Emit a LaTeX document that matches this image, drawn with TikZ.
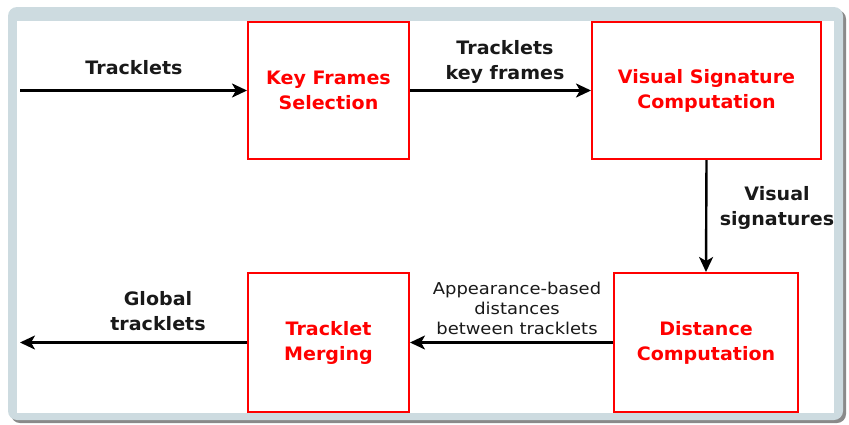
\documentclass[tikz,border=0pt]{standalone}
\usepackage{fontspec}
\setmainfont{DejaVu Sans}
\newfontfamily\bigfont[FakeStretch=1.03]{DejaVu Sans}
\newfontfamily\smallfont[FakeStretch=1.1]{DejaVu Sans}
\usetikzlibrary{arrows.meta}
\definecolor{framecol}{HTML}{CDDBE0}
\definecolor{shadowcol}{HTML}{8A8A8A}
\tikzset{
  proc/.style={draw=red, line width=2pt, fill=white, font=\bigfont\bfseries\fontsize{18.5}{25}\selectfont, text=red, align=center, inner sep=0pt},
  conn/.style={line width=2.4pt, -{Stealth[length=15pt,width=14pt,inset=4pt]}},
  lbl/.style={font=\bigfont\bfseries\fontsize{18.5}{25}\selectfont, text=black!90, align=center},
  slbl/.style={font=\smallfont\fontsize{16.3}{20}\selectfont, text=black!90, align=center},
}
\begin{document}
\begin{tikzpicture}[x=1pt,y=-1pt]
\useasboundingbox (0,0) rectangle (849,424);
% frame with shadow
\fill[shadowcol, rounded corners=9pt] (11,10) rectangle (846,423);
\fill[framecol, rounded corners=9pt] (8,7) rectangle (843,420);
\fill[white] (17,21) rectangle (834,413);
% boxes
\node[proc, minimum width=161pt, minimum height=137pt] (kf) at (328.5,90.5) {Key Frames\\Selection};
\node[proc, minimum width=229pt, minimum height=137pt] (vs) at (706.5,90.5) {Visual Signature\\Computation};
\node[proc, minimum width=184pt, minimum height=139pt] (dc) at (706,342.5) {Distance\\Computation};
\node[proc, minimum width=161pt, minimum height=139pt] (tm) at (328.5,342.5) {Tracklet\\Merging};
\coordinate (in) at (20,90.5);
\coordinate (out) at (20,342.5);
% connectors
\draw[conn] (in) -- (kf.west);
\draw[conn] (kf.east) -- (vs.west);
\draw[conn] (vs.south) -- (dc.north);
\draw[conn] (dc.west) -- (tm.east);
\draw[conn] (tm.west) -- (out);
% labels
\node[lbl] (l1) at (134,68) {Tracklets};
\node[lbl] (l2) at (505,62) {Tracklets\\key frames};
\node[lbl] (l3) at (777,208) {Visual\\signatures};
\node[slbl] (l4) at (517,308) {Appearance-based\\distances\\between tracklets};
\node[lbl] (l5) at (158,311) {Global\\tracklets};
\end{tikzpicture}
\end{document}
